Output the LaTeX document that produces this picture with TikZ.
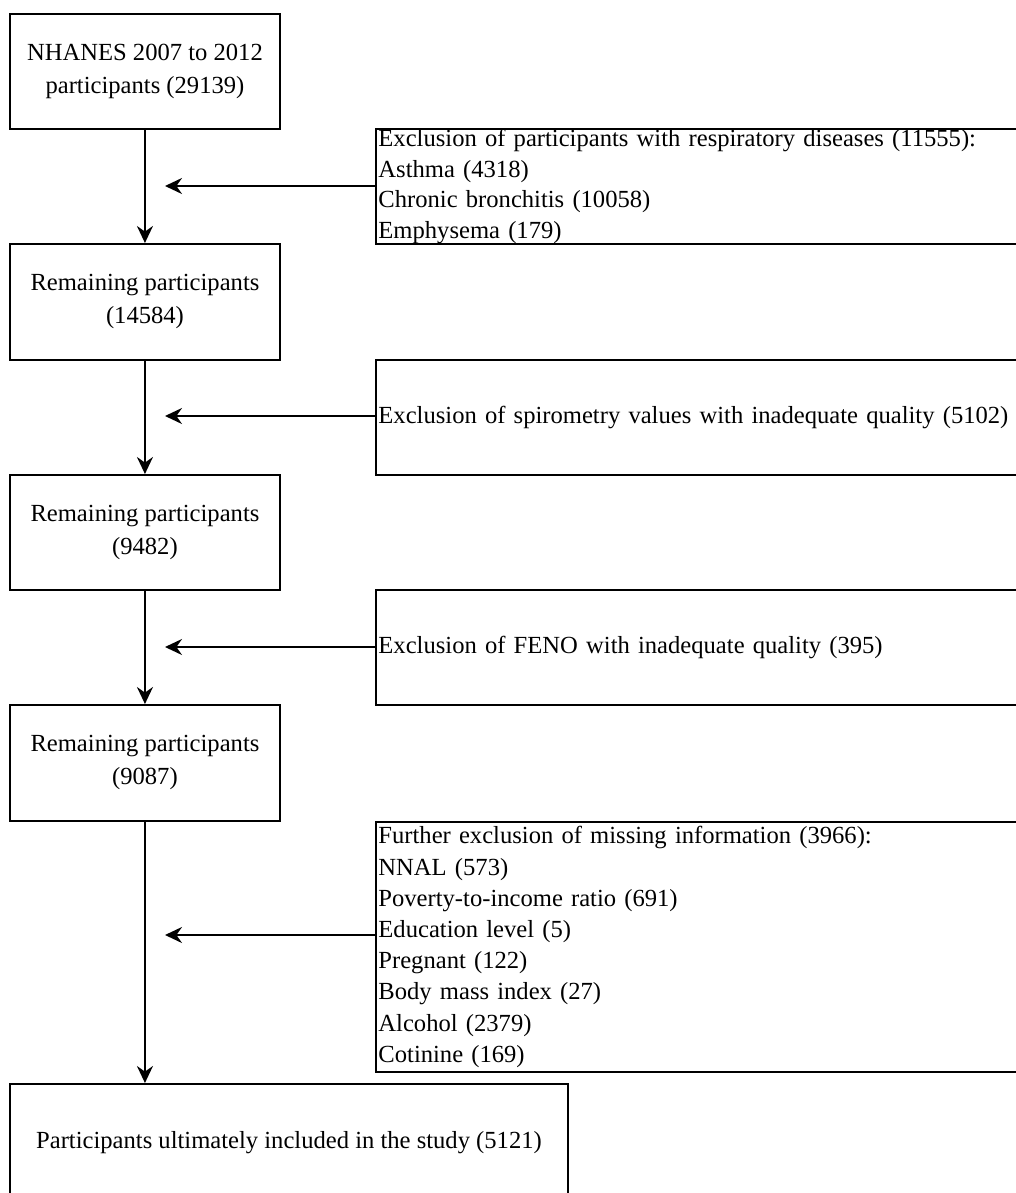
\documentclass[tikz,border=0pt]{standalone}
\usepackage{fontspec}
\setmainfont{Liberation Serif}
\usetikzlibrary{arrows.meta,positioning,calc}

\begin{document}
\begin{tikzpicture}[x=0.5pt,y=-0.5pt,line width=0.95pt,
    >={Stealth[length=8.5pt,width=8pt,inset=2.8pt]},
    stage/.style={draw,inner sep=0pt,anchor=north west,align=center,
      font=\fontsize{12.3pt}{16.5pt}\selectfont,minimum width=135pt,minimum height=57.5pt},
    excl/.style={draw,inner xsep=1.25pt,inner ysep=0pt,anchor=north west,align=left,
      text width=320pt,font=\fontsize{12.3pt}{15.4pt}\selectfont,minimum height=57.5pt}]
  \useasboundingbox (0,0) rectangle (1016,1193);
  \clip (0,0) rectangle (1016,1193);
  % main column
  \node[stage] (b1) at (9,13) {NHANES 2007 to 2012\\participants (29139)};
  \node[stage,minimum height=58pt] (b2) at (9,243) {Remaining participants\\(14584)};
  \node[stage] (b3) at (9,474) {Remaining participants\\(9482)};
  \node[stage,minimum height=58pt] (b4) at (9,704) {Remaining participants\\(9087)};
  \node[stage,minimum width=279pt,minimum height=59pt] (b5) at (9,1083) {Participants ultimately included in the study (5121)};
  % exclusions
  \node[excl] (e1) at (375,128) {Exclusion of participants with respiratory diseases (11555):\\Asthma (4318)\\Chronic bronchitis (10058)\\Emphysema (179)};
  \node[excl] (e2) at (375,359) {Exclusion of spirometry values with inadequate quality (5102)};
  \node[excl] (e3) at (375,589) {Exclusion of FENO with inadequate quality (395)};
  \node[excl,minimum height=125pt,font=\fontsize{12.3pt}{15.6pt}\selectfont] (e4) at (375,821) {Further exclusion of missing information (3966):\\NNAL (573)\\Poverty-to-income ratio (691)\\Education level (5)\\Pregnant (122)\\Body mass index (27)\\Alcohol (2379)\\Cotinine (169)};
  % arrow ends
  \coordinate (t1) at (165,186);
  \coordinate (t2) at (165,416);
  \coordinate (t3) at (165,647);
  \coordinate (t4) at (165,935);
  \draw[->] (b1.south) -- (b2.north);
  \draw[->] (b2.south) -- (b3.north);
  \draw[->] (b3.south) -- (b4.north);
  \draw[->] (b4.south) -- (b4.south |- b5.north);
  \draw[->] (e1.west |- t1) -- (t1);
  \draw[->] (e2.west |- t2) -- (t2);
  \draw[->] (e3.west |- t3) -- (t3);
  \draw[->] (e4.west |- t4) -- (t4);
\end{tikzpicture}
\end{document}
